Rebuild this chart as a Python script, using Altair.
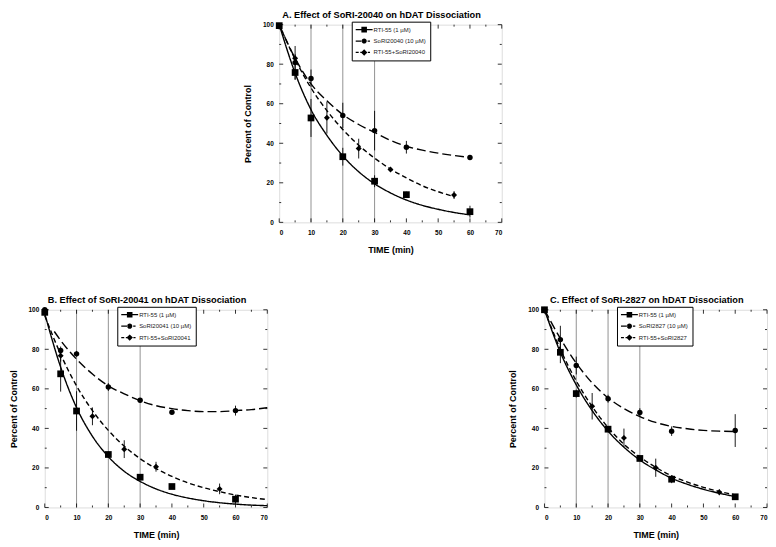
import altair as alt
import pandas as pd

FONT = "Liberation Sans"
W, H = 224, 199

# ---------------- data ----------------
fit_t = [0, 5, 10, 15, 20, 25, 30, 35, 40, 45, 50, 55, 60]
fit_t70 = [0, 5, 10, 15, 20, 25, 30, 35, 40, 45, 50, 55, 60, 65, 70]

# Panel A
A_names = ["RTI-55 (1 µM)", "SoRI20040 (10 µM)", "RTI-55+SoRI20040"]
A_rti_t = [0, 5, 10, 20, 30, 40, 60]
A_rti_v = [99.5, 75.8, 52.8, 33.2, 20.8, 14.0, 5.4]
A_rti_e = [1.0, 3.8, 9.6, 4.5, 3.0, 1.5, 3.0]
A_sor_t = [0, 5, 10, 20, 30, 40, 60]
A_sor_v = [99.0, 80.8, 72.8, 54.1, 46.4, 38.0, 32.8]
A_sor_e = [1.0, 8.4, 4.5, 6.4, 10.0, 3.2, 1.0]
A_com_t = [0, 5, 15, 25, 35, 55]
A_com_v = [99.0, 83.0, 52.9, 37.3, 26.7, 13.8]
A_com_e = [1.0, 2.0, 8.0, 5.0, 1.0, 2.0]
A_rti_fit = [100, 75.5, 57, 44, 33.6, 25.6, 19.5, 14.9, 11.3, 8.6, 6.6, 5.0, 3.8]
A_sor_fit = [100, 83, 70, 61.5, 54.5, 49.5, 45.5, 41.5, 38.5, 36.5, 35, 33.8, 32.8]
A_com_fit_t = [0, 5, 10, 15, 20, 25, 30, 35, 40, 45, 50, 55]
A_com_fit = [100, 82.5, 68, 56.5, 47, 39, 32.5, 27, 22.5, 18.5, 15.5, 13]

# Panel B
B_names = ["RTI-55 (1 µM)", "SoRI20041 (10 µM)", "RTI-55+SoRI20041"]
B_rti_t = [0, 5, 10, 20, 30, 40, 60]
B_rti_v = [98.7, 67.6, 48.8, 26.8, 15.3, 10.6, 4.2]
B_rti_e = [1.5, 9.0, 10.0, 1.5, 1.0, 1.0, 2.3]
B_sor_t = [0, 5, 10, 20, 30, 40, 60]
B_sor_v = [100.0, 79.4, 77.7, 60.9, 54.2, 48.2, 49.0]
B_sor_e = [0.5, 2.0, 1.5, 2.0, 1.0, 1.0, 2.5]
B_com_t = [0, 5, 15, 25, 35, 55]
B_com_v = [99.0, 76.8, 46.1, 29.5, 20.6, 9.4]
B_com_e = [1.0, 3.0, 4.5, 4.5, 2.5, 2.7]
B_rti_fit = [98, 71, 50.5, 36, 25.7, 18.3, 13.2, 9.4, 6.7, 4.8, 3.4, 2.4, 1.7, 1.2, 0.9]
B_sor_fit_t = [3, 5, 10, 15, 20, 25, 30, 35, 40, 45, 50, 55, 60, 65, 70]
B_sor_fit = [89, 84.5, 75, 67.5, 61.5, 57.5, 54, 51.5, 50, 49, 48.5, 48.5, 49, 49.5, 50.5]
B_com_fit = [97, 77.5, 61.5, 49, 39, 31, 24.7, 19.7, 15.7, 12.5, 10, 8, 6.3, 5, 4]

# Panel C
C_names = ["RTI-55 (1 µM)", "SoRI2827 (10 µM)", "RTI-55+SoRI2827"]
C_rti_t = [0, 5, 10, 20, 30, 40, 60]
C_rti_v = [100.0, 78.5, 57.6, 39.6, 24.8, 14.3, 5.4]
C_rti_e = [0.5, 5.5, 2.0, 1.5, 1.0, 2.0, 0.5]
C_sor_t = [0, 5, 10, 20, 30, 40, 60]
C_sor_v = [100.0, 84.9, 71.8, 55.0, 48.0, 38.6, 38.9]
C_sor_e = [0.5, 7.0, 4.5, 2.0, 2.2, 2.4, 8.3]
C_com_t = [0, 15, 25, 35, 55]
C_com_v = [100.0, 51.2, 35.2, 20.1, 7.7]
C_com_e = [0.5, 6.7, 4.7, 4.6, 1.5]
C_rti_fit = [100, 78.5, 62, 49, 38.6, 30.5, 24, 19, 14.8, 11.7, 9.2, 7.2, 5.5]
C_sor_fit = [100, 85.5, 73, 63, 55.5, 50, 46, 43, 41, 39.8, 39, 38.6, 38.4]
C_com_fit = [100, 80, 64, 51, 40.5, 32, 25.6, 20.3, 16, 12.8, 10.2, 8.1, 6.4]

# axes / decoration values
x_labels = [0, 10, 20, 30, 40, 50, 60, 70]
x_minor = [5, 15, 25, 35, 45, 55, 65]
y_labels = [0, 20, 40, 60, 80, 100]
y_minor = [10, 30, 50, 70, 90]
grid_times = [10, 20, 30]

marker_shapes = ["square", "circle", "diamond"]
marker_sizes = [46, 30, 36]
line_dashes = [[1, 0], [9, 4], [5, 3]]
# legend glyphs: line sample (drawn as thin filled bars, dashed where needed) + marker
legend_paths = [
    "M-1,-0.16H3.25V0.16H-1Z"
    "M0.425,-0.7H1.825V0.7H0.425Z",
    "M-1,-0.16H0.6V0.16H-1Z"
    "M2.0,-0.16H2.6V0.16H2.0Z"
    "M0.475,0A0.65,0.65,0,1,0,1.775,0A0.65,0.65,0,1,0,0.475,0Z",
    "M-1,-0.16H-0.25V0.16H-1Z"
    "M0.15,-0.16H1.1V0.16H0.15Z"
    "M2.05,-0.16H2.6V0.16H2.05Z"
    "M1.125,-0.8L1.925,0L1.125,0.8L0.325,0Z",
]


def panel(title, names, pts, fits):
    xs = alt.Scale(domain=[0, 70], nice=False, zero=False)
    ys = alt.Scale(domain=[0, 100], nice=False, zero=False)
    xaxis = alt.Axis(values=x_labels, title="TIME (min)", ticks=False, tickSize=0,
                     domain=False, grid=False, labelFont=FONT, labelFontSize=6.5,
                     labelFontWeight="bold", labelPadding=7, titleFont=FONT,
                     titleFontSize=9, titleFontWeight="bold", titlePadding=10,
                     labelColor="black", titleColor="black")
    yaxis = alt.Axis(values=y_labels, title="Percent of Control", ticks=False, tickSize=0,
                     domain=False, grid=False, labelFont=FONT, labelFontSize=6.5,
                     labelFontWeight="bold", labelPadding=6, titleFont=FONT,
                     titleFontSize=9, titleFontWeight="bold", titlePadding=10,
                     labelColor="black", titleColor="black")

    def X(f="t"):
        return alt.X(f + ":Q", scale=xs, axis=xaxis)

    def Y(f="v"):
        return alt.Y(f + ":Q", scale=ys, axis=yaxis)

    layers = []
    # vertical grid lines
    layers.append(alt.Chart(pd.DataFrame({"t": grid_times})).mark_rule(
        color="#777777", strokeWidth=0.8).encode(x=X()))
    # inward ticks
    tx = pd.DataFrame({"t": x_labels})
    txm = pd.DataFrame({"t": x_minor})
    ty = pd.DataFrame({"v": y_labels})
    tym = pd.DataFrame({"v": y_minor})
    for df, ln in ((tx, 4), (txm, 2)):
        layers.append(alt.Chart(df).mark_rule(color="black", strokeWidth=0.8).encode(
            x=X(), y=alt.value(H), y2=alt.value(H - ln)))
        layers.append(alt.Chart(df).mark_rule(color="black", strokeWidth=0.8).encode(
            x=X(), y=alt.value(0), y2=alt.value(ln)))
    for df, ln in ((ty, 4), (tym, 2)):
        layers.append(alt.Chart(df).mark_rule(color="black", strokeWidth=0.8).encode(
            y=Y(), x=alt.value(0), x2=alt.value(ln)))
        layers.append(alt.Chart(df).mark_rule(color="black", strokeWidth=0.8).encode(
            y=Y(), x=alt.value(W), x2=alt.value(W - ln)))

    # fitted curves
    for (ft, fv), dash in zip(fits, line_dashes):
        layers.append(alt.Chart(pd.DataFrame({"t": ft, "v": fv})).mark_line(
            color="black", strokeWidth=1.4, strokeDash=dash, interpolate="monotone").encode(
            x=X(), y=Y()))

    rows = []
    for name, (ts, vs, es) in zip(names, pts):
        for t, v, e in zip(ts, vs, es):
            rows.append({"series": name, "t": t, "v": v, "lo": v - e, "hi": v + e})
    pdf = pd.DataFrame(rows)

    # error bars
    layers.append(alt.Chart(pdf).mark_rule(color="black", strokeWidth=0.9).encode(
        x=X(), y=Y("lo"), y2="hi:Q"))
    # markers
    for name, shp, sz in zip(names, marker_shapes, marker_sizes):
        layers.append(alt.Chart(pdf).transform_filter(alt.datum.series == name).mark_point(
            shape=shp, size=sz, filled=True, color="black", opacity=1).encode(x=X(), y=Y()))

    # legend layer (invisible marks, visible legend)
    leg = alt.Legend(title=None, orient="none", legendX=73, legendY=-3,
                     fillColor="white", strokeColor="black",
                     padding=4, labelFont=FONT, labelFontSize=6, labelColor="#222222",
                     symbolSize=64, symbolStrokeWidth=0, symbolFillColor="black",
                     symbolOpacity=1, labelOffset=10, rowPadding=4.5, labelLimit=200)
    layers.append(alt.Chart(pdf).mark_point(filled=True, color="black", opacity=0).encode(
        x=X(), y=Y(),
        shape=alt.Shape("series:N", scale=alt.Scale(domain=names, range=legend_paths),
                        legend=leg, sort=names),
    ))

    return alt.layer(*layers).properties(
        width=W, height=H,
        title=alt.TitleParams(title, font=FONT, fontSize=9.3, fontWeight="bold",
                              anchor="middle", frame="group", dx=-9, offset=1,
                              color="black"))


pA = panel("A. Effect of SoRI-20040 on hDAT Dissociation", A_names,
           [(A_rti_t, A_rti_v, A_rti_e), (A_sor_t, A_sor_v, A_sor_e), (A_com_t, A_com_v, A_com_e)],
           [(fit_t, A_rti_fit), (fit_t, A_sor_fit), (A_com_fit_t, A_com_fit)])
pB = panel("B. Effect of SoRI-20041 on hDAT Dissociation", B_names,
           [(B_rti_t, B_rti_v, B_rti_e), (B_sor_t, B_sor_v, B_sor_e), (B_com_t, B_com_v, B_com_e)],
           [(fit_t70, B_rti_fit), (B_sor_fit_t, B_sor_fit), (fit_t70, B_com_fit)])
pC = panel("C. Effect of SoRI-2827 on hDAT Dissociation", C_names,
           [(C_rti_t, C_rti_v, C_rti_e), (C_sor_t, C_sor_v, C_sor_e), (C_com_t, C_com_v, C_com_e)],
           [(fit_t, C_rti_fit), (fit_t, C_sor_fit), (fit_t, C_com_fit)])

spacer = alt.Chart(pd.DataFrame({"s": [0.5]})).mark_point(opacity=0).encode(
    x=alt.X("s:Q", axis=None, scale=alt.Scale(domain=[0, 1])),
    y=alt.Y("s:Q", axis=None, scale=alt.Scale(domain=[0, 1])),
).properties(width=198, height=10, view=alt.ViewBackground(stroke="transparent"))

indep = dict(shape="independent")
top = alt.hconcat(spacer, pA, spacing=0).resolve_scale(**indep)
bottom = alt.hconcat(pB, pC, spacing=238).resolve_scale(**indep)
chart = alt.vconcat(top, bottom, spacing=40).resolve_scale(**indep).properties(
    padding=0).configure_view(
    stroke="black", strokeWidth=1).configure_legend(strokeWidth=1.4).configure(
    background="white")

chart.save("out.html", embed_options={"renderer": "svg", "actions": False})
